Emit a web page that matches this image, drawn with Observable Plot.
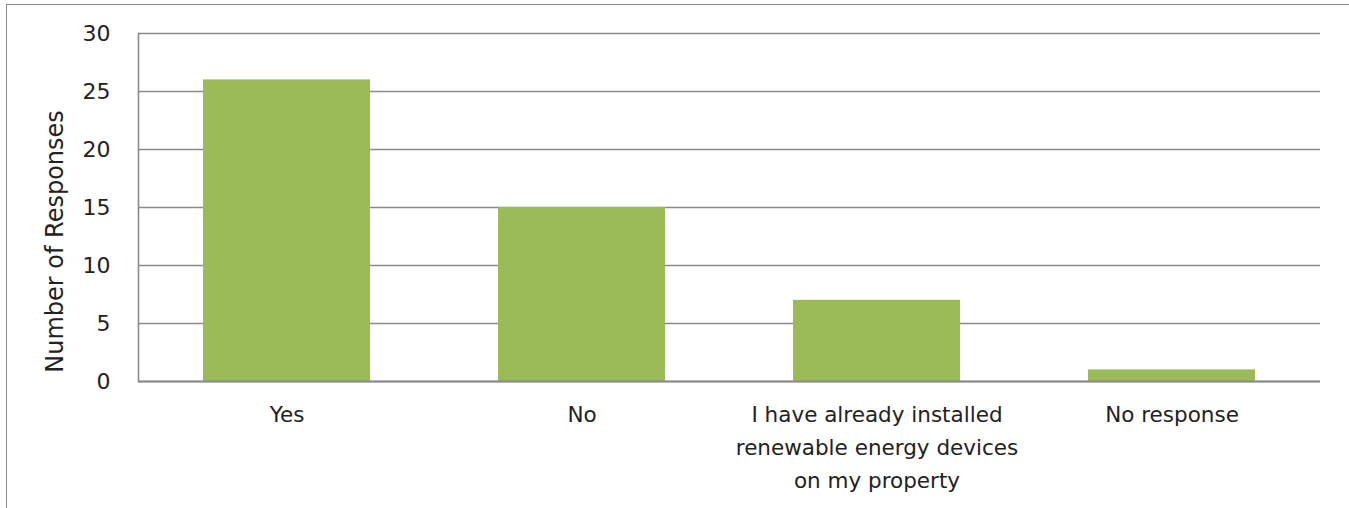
<!DOCTYPE html>
<html>
<head>
<meta charset="utf-8">
<script src="https://cdn.jsdelivr.net/npm/d3@7"></script>
<script src="https://cdn.jsdelivr.net/npm/@observablehq/plot@0.6"></script>
<style>
  html, body { margin: 0; padding: 0; background: #fff; }
  #wrap { position: relative; width: 1349px; height: 508px; overflow: hidden; }
  #frame { position: absolute; left: 6px; top: 4px; width: 1400px; height: 600px;
           border-top: 1.5px solid #8a8a8a; border-left: 1.5px solid #8a8a8a; pointer-events: none; }
  svg { display: block; }
</style>
</head>
<body>
<div id="wrap"><div id="frame"></div></div>
<script>
const categories = ["Yes", "No", "I have already installed\nrenewable energy devices\non my property", "No response"];
const responses = [26, 15, 7, 1];
const yTicks = [0, 5, 10, 15, 20, 25, 30];
const yLabel = "Number of Responses";

const data = categories.map((c, i) => ({category: c, value: responses[i]}));
const font = "'DejaVu Sans', sans-serif";

const chart = Plot.plot({
  width: 1349,
  height: 508,
  marginLeft: 138,
  marginRight: 29,
  marginTop: 33,
  marginBottom: 127,
  style: {fontFamily: font, fontSize: "20px", color: "#222", background: "transparent"},
  x: {domain: categories, paddingInner: 0.433, paddingOuter: 0.2165, label: null},
  y: {domain: [0, 30], ticks: yTicks, label: null},
  marks: [
    Plot.gridY(yTicks, {stroke: "#8a8a8a", strokeOpacity: 1, strokeWidth: 1.6}),
    Plot.barY(data, {x: "category", y: "value", fill: "#9BBB59"}),
    Plot.ruleY([0], {stroke: "#8a8a8a", strokeWidth: 2}),
    Plot.frame({anchor: "left", stroke: "#8a8a8a", strokeWidth: 1.6}),
    Plot.axisY(yTicks, {tickSize: 0, tickPadding: 28, fontSize: 22, fill: "#222", label: null}),
    Plot.axisX({tickSize: 0, tickPadding: 17, fontSize: 21.5, lineHeight: 1.53, fill: "#222", label: null}),
    Plot.text([yLabel], {frameAnchor: "left", dx: -83, y: 12.07, rotate: -90, fontSize: 24, fill: "#222", textAnchor: "middle"})
  ]
});
document.getElementById("wrap").prepend(chart);
</script>
</body>
</html>
